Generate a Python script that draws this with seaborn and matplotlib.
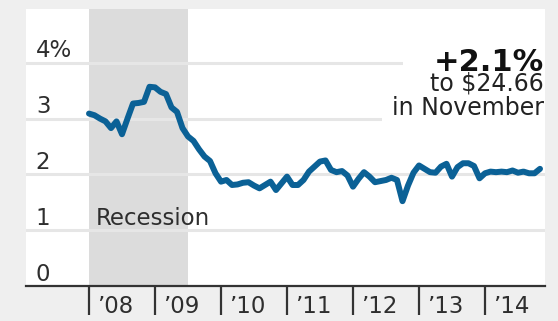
import matplotlib
matplotlib.use("Agg")
import matplotlib.pyplot as plt
import matplotlib.transforms as mtransforms
import seaborn as sns
import pandas as pd

# Monthly year-over-year change in average hourly earnings, Jan 2008 - Nov 2014 (%)
start_year = 2008
values = [
    3.09, 3.06, 3.00, 2.95, 2.83, 2.95, 2.72, 3.00, 3.27, 3.28, 3.30, 3.57,   # 2008
    3.56, 3.48, 3.44, 3.20, 3.12, 2.83, 2.68, 2.60, 2.45, 2.32, 2.24, 2.02,   # 2009
    1.87, 1.90, 1.81, 1.82, 1.85, 1.86, 1.80, 1.75, 1.81, 1.87, 1.72, 1.84,   # 2010
    1.96, 1.81, 1.81, 1.90, 2.05, 2.14, 2.23, 2.25, 2.08, 2.04, 2.06, 1.98,   # 2011
    1.78, 1.92, 2.04, 1.96, 1.86, 1.88, 1.90, 1.94, 1.90, 1.52, 1.80, 2.03,   # 2012
    2.16, 2.10, 2.04, 2.03, 2.14, 2.19, 1.96, 2.13, 2.20, 2.20, 2.15, 1.93,   # 2013
    2.02, 2.05, 2.04, 2.05, 2.04, 2.07, 2.03, 2.05, 2.02, 2.02, 2.10,         # 2014
]
year_ticks = [2008, 2009, 2010, 2011, 2012, 2013, 2014]
year_labels = ["\u201908", "\u201909", "\u201910", "\u201911", "\u201912", "\u201913", "\u201914"]
y_ticks = [0, 1, 2, 3, 4]
y_labels = ["0", "1", "2", "3", "4%"]
recession = (2008.0, 2009.5)
headline = "+2.1%"
sub1 = "to $24.66"
sub2 = "in November"

df = pd.DataFrame({
    "t": [start_year + i / 12 for i in range(len(values))],
    "v": values,
})

sns.set_theme(style="white")
plt.rcParams["font.family"] = ["DejaVu Sans"]

BG = "#efefef"
LINE = "#0b6196"
GRID = "#e6e6e6"
TXT = "#2e2e2e"
FS = 16.5

fig = plt.figure(figsize=(5.58, 3.21), dpi=100, facecolor=BG)
W, H = 558, 321
ax = fig.add_axes([26 / W, (H - 286) / H, (545 - 26) / W, (286 - 9) / H])
ax.set_facecolor("white")

ax.set_xlim(2008 - 63 / 66, 2008 + (545 - 89) / 66)
ax.set_ylim(0, 277 / 55.8)

ax.axvspan(*recession, color="#dcdcdc", lw=0, zorder=0)
for y in y_ticks[1:]:
    ax.axhline(y, color=GRID, lw=2.2, zorder=1)

sns.lineplot(data=df, x="t", y="v", ax=ax, color=LINE, lw=4.3, zorder=4,
             solid_joinstyle="round", solid_capstyle="round")
ax.set_xlabel("")
ax.set_ylabel("")

# y labels above gridlines
ytrans = mtransforms.blended_transform_factory(ax.transAxes, ax.transData)
for y, lab in zip(y_ticks, y_labels):
    ax.text(0.019, y + 0.095, lab, transform=ytrans, ha="left", va="baseline",
            fontsize=FS, color=TXT, zorder=3)

# x ticks and labels
ax.set_xticks(year_ticks)
ax.set_xticklabels([])
ax.tick_params(axis="x", direction="out", length=21, width=1.6, color="#333333",
               bottom=True)
ax.set_yticks([])
xtrans = mtransforms.blended_transform_factory(ax.transData, ax.transAxes)
for x, lab in zip(year_ticks, year_labels):
    ax.text(x + 0.12, -0.0975, lab, transform=xtrans, ha="left", va="baseline",
            fontsize=FS, color=TXT)

for s in ["top", "left", "right"]:
    ax.spines[s].set_visible(False)
ax.spines["bottom"].set_color("#333333")
ax.spines["bottom"].set_linewidth(1.6)

ax.text(2008.1, 1.09, "Recession", ha="left", va="baseline", fontsize=FS,
        color=TXT, zorder=3)

# annotation
ax.text(0.998, 0.776, headline, transform=ax.transAxes, ha="right", va="baseline",
        fontsize=22, fontweight="bold", color="#111111", zorder=5, clip_on=True,
        bbox=dict(boxstyle="square,pad=1.0", fc="white", ec="none"))
ax.text(0.998, 0.706, sub1, transform=ax.transAxes, ha="right", va="baseline",
        fontsize=17, color="#222222", zorder=7)
ax.text(0.998, 0.616, sub2, transform=ax.transAxes, ha="right", va="baseline",
        fontsize=17, color="#222222", zorder=6, clip_on=True,
        bbox=dict(boxstyle="square,pad=0.42", fc="white", ec="none"))

fig.savefig("out.png", dpi=100, facecolor=BG)
